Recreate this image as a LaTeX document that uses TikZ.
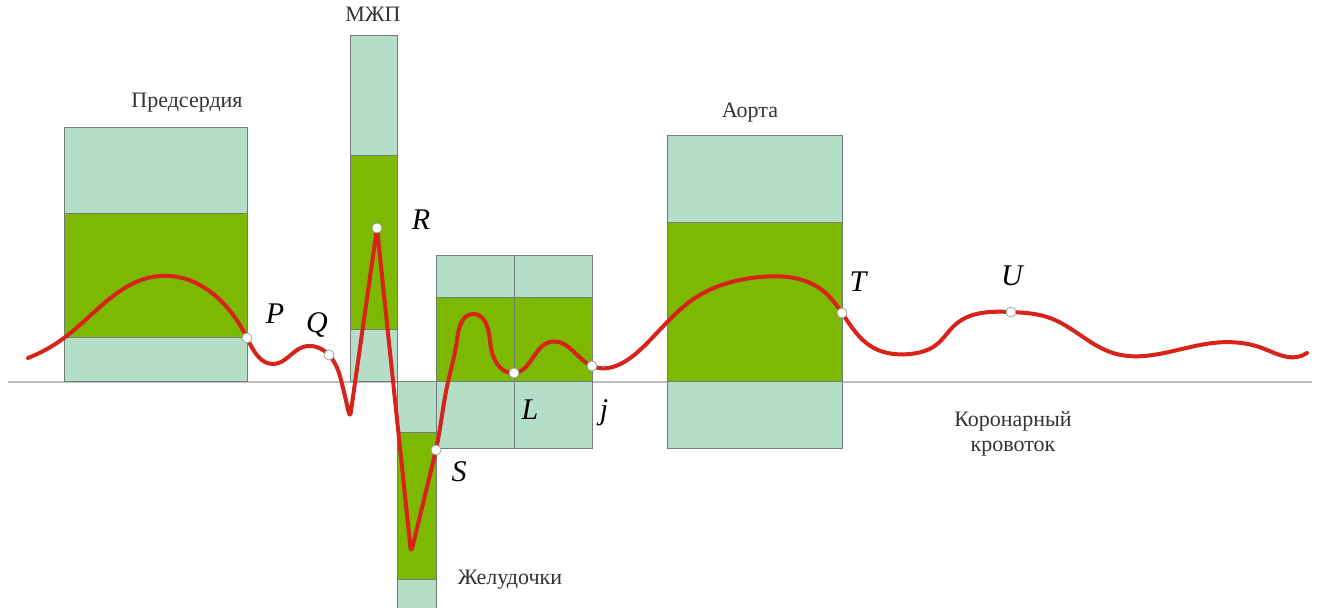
\documentclass[tikz,border=0pt]{standalone}
\usepackage{fontspec}
\setmainfont{Liberation Serif}
\usetikzlibrary{positioning, hobby}
\definecolor{cpale}{HTML}{B5DEC9}
\definecolor{cleaf}{HTML}{7DB900}
\definecolor{cred}{HTML}{D8221C}
\definecolor{cedge}{HTML}{6F7F74}
\definecolor{caxis}{HTML}{BDBDBD}
\tikzset{
  every picture/.style={x=0.5pt, y=-0.5pt},
  pale/.style={fill=cpale, draw=cedge, line width=0.5pt},
  leaf/.style={fill=cleaf, draw=cedge, line width=0.5pt},
  ecg/.style={draw=cred, line width=2pt, line cap=round, line join=round},
  marker/.style={circle, fill=white, draw=cedge!70, line width=0.4pt, inner sep=0pt, minimum size=5pt},
  caption/.style={font=\fontsize{11}{13}\selectfont, text=black!80, align=center},
  wave/.style={font=\fontsize{15}{18}\selectfont\itshape},
}
\begin{document}
\begin{tikzpicture}
  \useasboundingbox (0,0) rectangle (1322,608);
  % zero line
  \draw[caxis, line width=0.8pt] (8,382) coordinate (z0) -- (1312,382) coordinate (z1);
  % columns: left/right/top/green top/green bottom/bottom
  \foreach \xa/\xb/\ya/\yb/\yc/\yd in {64/247/128/214/338/382, 350/397/36/156/330/382, 397/436/382/433/580/620,
      436/514/256/298/382/449, 514/592/256/298/382/449, 667/842/136/223/382/449} {
    \draw[pale] (\xa,\ya) rectangle (\xb,\yb);
    \draw[leaf] (\xa,\yb) rectangle (\xb,\yc);
    \draw[pale] (\xa,\yc) rectangle (\xb,\yd);
  }
  % captions
  \node[caption] (atria) at (187,103) {Предсердия};
  \node[caption] (ivs) at (373,14) {МЖП};
  \node[caption] (vent) at (510,580) {Желудочки};
  \node[caption] (aorta) at (750,113) {Аорта};
  \node[caption, font=\fontsize{11}{12.5}\selectfont] (coron) at (1013,434) {Коронарный\\кровоток};
  % wave points
  \foreach \n/\x/\y in {P/247/338, Q/329/355, R/377/228, S/436/450, L/514/373, j/592/366, T/842/313, U/1011/312}
    \coordinate (p\n) at (\x,\y);
  % P wave
  \draw[ecg, use Hobby shortcut] (28,358) .. (64,338) .. (160,276) .. (pP) .. (274,364) .. (303,347) .. (pQ)
    .. ([in angle=104]344,392);
  % QRS
  \draw[ecg, rounded corners=3pt] (344,392) -- (350,418) -- (pR) -- (411,553) -- (pS);
  % ST, T, U
  \draw[ecg, use Hobby shortcut] ([out angle=78]pS) .. (448,382) .. (457,340) .. (473,314) .. (490,341) .. (pL)
      .. (550,342) .. (pj) .. (640,350) .. (695,298) .. (760,277) .. (822,290) .. (pT) .. (872,347) .. (910,354)
      .. (936,345) .. (956,324) .. (pU) .. (1050,318) .. (1113,353) .. (1213,343) .. (1262,348) .. (1297,357) .. (1307,353);
  \foreach \n in {P,Q,R,S,L,j,T,U}
    \node[marker] (m\n) at (p\n) {};
  % wave letters
  \foreach \n/\x/\y in {P/275/314, Q/317/325, R/421/220, S/459/472, L/530/410, j/604/413, T/858/282, U/1012/276}
    \node[wave] (l\n) at (\x,\y) {\n};
\end{tikzpicture}
\end{document}
